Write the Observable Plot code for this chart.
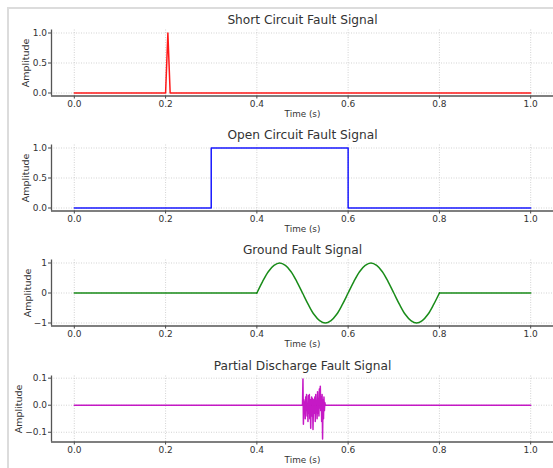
<!DOCTYPE html>
<html><head><meta charset="utf-8">
<script src="https://cdn.jsdelivr.net/npm/d3@7"></script>
<script src="https://cdn.jsdelivr.net/npm/@observablehq/plot@0.6"></script>
<style>
html,body{margin:0;padding:0;background:#fff;}
#wrap{position:relative;width:553px;height:468px;overflow:hidden;font-family:"DejaVu Sans",sans-serif;}
#frame{position:absolute;left:7px;top:7px;right:-10px;bottom:-10px;border-left:2px solid #dcdcdc;border-top:2px solid #dcdcdc;}
.panel{position:absolute;left:0;}
</style></head><body><div id="wrap"><div id="frame"></div></div>
<script>
const titles = ["Short Circuit Fault Signal", "Open Circuit Fault Signal", "Ground Fault Signal", "Partial Discharge Fault Signal"];
const timeTicks = [0, 0.2, 0.4, 0.6, 0.8, 1.0];

// Short circuit: brief spike at 0.2 s
const shortT = [0, 0.2, 0.205, 0.21, 1.0];
const shortV = [0, 0, 1, 0, 0];

// Open circuit: step between 0.3 and 0.6 s
const openT = [0, 0.3, 0.3, 0.6, 0.6, 1.0];
const openV = [0, 0, 1, 1, 0, 0];

// Ground fault: flat parts, and an oscillation between 0.4 and 0.8 s (read every 0.0125 s)
const groundFlatT = [0, 0.4, 0.8, 1.0];
const groundFlatV = [0, 0, 0, 0];
const groundFlatSeg = ["before", "before", "after", "after"];
const groundWaveT = [0.4, 0.4125, 0.425, 0.4375, 0.45, 0.4625, 0.475, 0.4875, 0.5, 0.5125, 0.525, 0.5375, 0.55, 0.5625, 0.575, 0.5875, 0.6,
  0.6125, 0.625, 0.6375, 0.65, 0.6625, 0.675, 0.6875, 0.7, 0.7125, 0.725, 0.7375, 0.75, 0.7625, 0.775, 0.7875, 0.8];
const groundWaveV = [0, 0.38, 0.71, 0.92, 1, 0.92, 0.71, 0.38, 0, -0.38, -0.71, -0.92, -1, -0.92, -0.71, -0.38, 0,
  0.38, 0.71, 0.92, 1, 0.92, 0.71, 0.38, 0, -0.38, -0.71, -0.92, -1, -0.92, -0.71, -0.38, 0];

// Partial discharge: noisy burst between 0.50 and 0.55 s
const pdT = [0, 0.5, 0.501, 0.502, 0.503, 0.504, 0.505, 0.506, 0.507, 0.508, 0.509, 0.51, 0.511, 0.512, 0.513, 0.514, 0.515, 0.516, 0.517, 0.518, 0.519,
  0.52, 0.521, 0.522, 0.523, 0.524, 0.525, 0.526, 0.527, 0.528, 0.529, 0.53, 0.531, 0.532, 0.533, 0.534, 0.535, 0.536, 0.537, 0.538, 0.539,
  0.54, 0.541, 0.542, 0.543, 0.544, 0.545, 0.546, 0.547, 0.548, 0.549, 0.55, 1.0];
const pdV = [0, 0, 0.097, -0.07, 0.02, -0.03, 0.01, -0.05, 0.03, -0.02, 0.04, -0.04, 0.0, -0.06, 0.035, -0.03, 0.04, -0.05, 0.02, -0.085, 0.01,
  0.03, -0.04, 0.025, -0.09, -0.01, 0.02, -0.03, 0.03, -0.06, 0.04, -0.02, 0.01, -0.05, 0.05, -0.03, 0.02, -0.04, 0.06, -0.01, 0.07,
  -0.02, 0.03, -0.06, 0.04, -0.125, 0.02, -0.05, 0.03, -0.02, 0.01, 0, 0];

const toRows = (T, V, S) => T.map((t, k) => ({t, v: V[k], s: S ? S[k] : "a"}));

const panels = [
  {lines: [{data: toRows(shortT, shortV), curve: "linear"}], color: "#ff0000", yDomain: [-0.05, 1.05], yTicks: [0, 0.5, 1], fmt: d3.format(".1f"), labelDx: -25.5},
  {lines: [{data: toRows(openT, openV), curve: "linear"}], color: "#0000ff", yDomain: [-0.05, 1.05], yTicks: [0, 0.5, 1], fmt: d3.format(".1f"), labelDx: -25.5},
  {lines: [{data: toRows(groundFlatT, groundFlatV, groundFlatSeg), curve: "linear"}, {data: toRows(groundWaveT, groundWaveV), curve: "catmull-rom"}],
    color: "#008000", yDomain: [-1.1, 1.1], yTicks: [-1, 0, 1], fmt: d3.format(".0f"), labelDx: -23.5},
  {lines: [{data: toRows(pdT, pdV), curve: "linear"}], color: "#bf00bf", yDomain: [-0.136, 0.108], yTicks: [-0.1, 0, 0.1], fmt: d3.format(".1f"), labelDx: -33}
];

const wrap = document.getElementById("wrap");
const gridStyle = {stroke: "#c8c8c8", strokeOpacity: 1, strokeDasharray: "1,1.5", strokeWidth: 0.8};
const MT = 29.5, MB = 19.5;

panels.forEach((p, i) => {
  const svg = Plot.plot({
    width: 553, height: 115,
    marginLeft: 51, marginRight: 0, marginTop: MT, marginBottom: MB,
    style: {background: "transparent", overflow: "visible", fontFamily: "DejaVu Sans", color: "#444"},
    x: {domain: [-0.05, 1.05]},
    y: {domain: p.yDomain},
    marks: [
      Plot.gridX({ticks: timeTicks, ...gridStyle}),
      Plot.gridY({ticks: p.yTicks, ...gridStyle}),
      Plot.axisX({ticks: timeTicks, tickFormat: d3.format(".1f"), tickSize: 3, tickPadding: 2, fontSize: 9, label: null, fill: "#333"}),
      Plot.axisY({ticks: p.yTicks, tickFormat: p.fmt, tickSize: 3, tickPadding: 1.5, fontSize: 9, label: null, fill: "#333"}),
      ...p.lines.map(l => Plot.line(l.data, {x: "t", y: "v", z: "s", stroke: p.color, strokeWidth: 1.5, strokeOpacity: 0.9, curve: l.curve})),
      Plot.ruleX([-0.05], {stroke: "#555", strokeWidth: 1.3}),
      Plot.ruleY([p.yDomain[0]], {stroke: "#555", strokeWidth: 1.3}),
      Plot.text([titles[i]], {text: d => d, frameAnchor: "top", lineAnchor: "middle", textAnchor: "middle", dy: 20 - MT, fontSize: 12.2, fill: "#333"}),
      Plot.text(["Time (s)"], {text: d => d, frameAnchor: "bottom", lineAnchor: "middle", textAnchor: "middle", dy: 18, fontSize: 8.8, fill: "#333"}),
      Plot.text(["Amplitude"], {text: d => d, frameAnchor: "left", lineAnchor: "middle", textAnchor: "middle", dx: p.labelDx, rotate: -90, fontSize: 9.5, fill: "#333"})
    ]
  });
  svg.classList.add("panel");
  svg.style.top = (i * 115.2) + "px";
  wrap.appendChild(svg);
});
</script>
</body></html>
